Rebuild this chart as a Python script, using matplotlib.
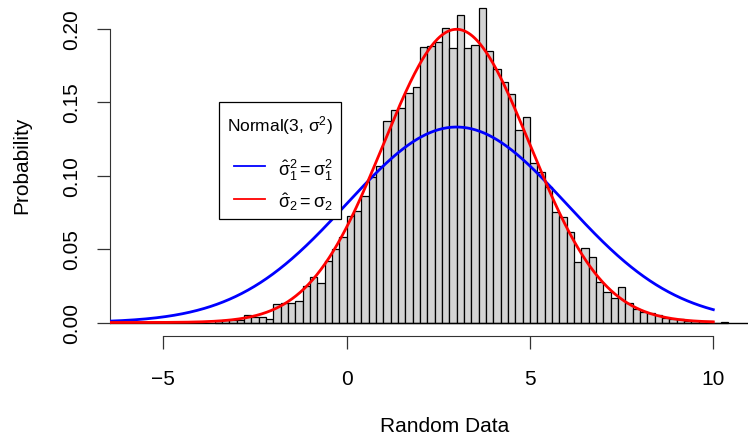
import numpy as np
import matplotlib
matplotlib.use("Agg")
import matplotlib.pyplot as plt
from matplotlib.lines import Line2D
from matplotlib.patches import Rectangle

plt.rcParams['font.family'] = ['Liberation Sans', 'DejaVu Sans']
plt.rcParams['mathtext.fontset'] = 'custom'
plt.rcParams['mathtext.rm'] = 'Liberation Sans'
plt.rcParams['mathtext.it'] = 'Liberation Sans:italic'

# histogram: bins of width 0.2 starting at -3.6
bin_start = -3.6
bin_width = 0.2
density = [
    0.0007, 0.0017, 0.0019, 0.0019, 0.0049, 0.0035, 0.0035, 0.0026,   # -3.6 .. -2.2
    0.0126, 0.0133, 0.0130, 0.0146, 0.0250, 0.0310, 0.0266, 0.0416,   # -2.0 .. -0.6
    0.0500, 0.0584, 0.0727, 0.0761, 0.0858, 0.0988, 0.1067, 0.1369,   # -0.4 .. 1.0
    0.1446, 0.1457, 0.1563, 0.1604, 0.1876, 0.1883, 0.1910, 0.2003,   # 1.2 .. 2.6
    0.1865, 0.2092, 0.1867, 0.1890, 0.2140, 0.1845, 0.1724, 0.1638,   # 2.8 .. 4.2
    0.1554, 0.1312, 0.1396, 0.1085, 0.1022, 0.0920, 0.0750, 0.0716,   # 4.4 .. 5.8
    0.0618, 0.0410, 0.0507, 0.0448, 0.0278, 0.0205, 0.0167, 0.0244,   # 6.0 .. 7.4
    0.0133, 0.0092, 0.0069, 0.0065, 0.0053, 0.0031, 0.0026, 0.0026,   # 7.6 .. 9.0
    0.0012, 0.0008, 0.0008, 0.0012, 0.0000, 0.0005,                   # 9.2 .. 10.2
]
bin_left = bin_start + bin_width * np.arange(len(density))

# fitted normal curves
mu = 3
sigma_blue = 3
sigma_red = 2
curve_from, curve_to = -7, 10

legend_title = 'Normal(3, σ$^2$)'
legend_labels = [r'$\hat{\mathrm{σ}}_1^2 = \mathrm{σ}_1^2$',
                 r'$\hat{\mathrm{σ}}_2 = \mathrm{σ}_2$']
legend_colors = ['#0000FF', '#FF0000']

def dnorm(x, m, s):
    return np.exp(-0.5 * ((x - m) / s) ** 2) / (s * np.sqrt(2 * np.pi))

W, H = 748, 439
fig = plt.figure(figsize=(W / 100, H / 100), dpi=100)
ax = fig.add_axes([110 / W, (H - 337) / H, (W - 110) / W, 337 / H])

ax.bar(bin_left, density, width=bin_width, align='edge',
       color='#D3D3D3', edgecolor='black', linewidth=0.9, zorder=2)
ax.axhline(0, color='black', linewidth=1.0, zorder=2)

xs = np.linspace(curve_from, curve_to, 600)
ax.plot(xs, dnorm(xs, mu, sigma_blue), color=legend_colors[0], lw=2, zorder=3)
ax.plot(xs, dnorm(xs, mu, sigma_red), color=legend_colors[1], lw=2, zorder=4)

ax.set_xlim(-6.45, 10.946)
ax.set_ylim(-0.00918, 0.22007)

for s in ['top', 'right']:
    ax.spines[s].set_visible(False)
ax.spines['left'].set_bounds(0, 0.2)
ax.spines['bottom'].set_bounds(-5, 10)
ax.spines['left'].set_color('#333333')
ax.spines['bottom'].set_color('#333333')

ax.set_xticks([-5, 0, 5, 10])
ax.set_xticklabels(['\u22125', '0', '5', '10'])
ax.set_yticks([0, 0.05, 0.10, 0.15, 0.20])
ax.set_yticklabels(['0.00', '0.05', '0.10', '0.15', '0.20'], rotation=90, va='center')
ax.tick_params(axis='both', length=9.5, width=0.9, color='#333333', labelsize=15)
ax.tick_params(axis='x', pad=14)
ax.tick_params(axis='y', pad=11)

fig.text(445 / W, 1 - 427 / H, 'Random Data', ha='center', va='center', fontsize=15)
fig.text(22 / W, 1 - 165 / H, 'Probability', ha='center', va='center',
         rotation=90, fontsize=15)

# legend box drawn by hand, R style (pixel positions -> figure fraction)
def fx(px):
    return px / W

def fy(py):
    return 1 - py / H

fig.patches.append(Rectangle((fx(219), fy(220)), fx(341) - fx(219), fy(103) - fy(220),
                             transform=fig.transFigure, facecolor='white',
                             edgecolor='black', linewidth=0.9, zorder=5))
fig.text(fx(280), fy(126), legend_title, ha='center', va='center', fontsize=12.5, zorder=6)
for i, (lab, col) in enumerate(zip(legend_labels, legend_colors)):
    y_line = [167, 200][i]
    y_text = [170, 202][i]
    fig.lines.append(Line2D([fx(234), fx(265)], [fy(y_line), fy(y_line)],
                            transform=fig.transFigure, color=col, lw=1.3, zorder=6))
    fig.text(fx(278), fy(y_text), lab, ha='left', va='center', fontsize=13, zorder=6)

fig.savefig('out.png', dpi=100)
